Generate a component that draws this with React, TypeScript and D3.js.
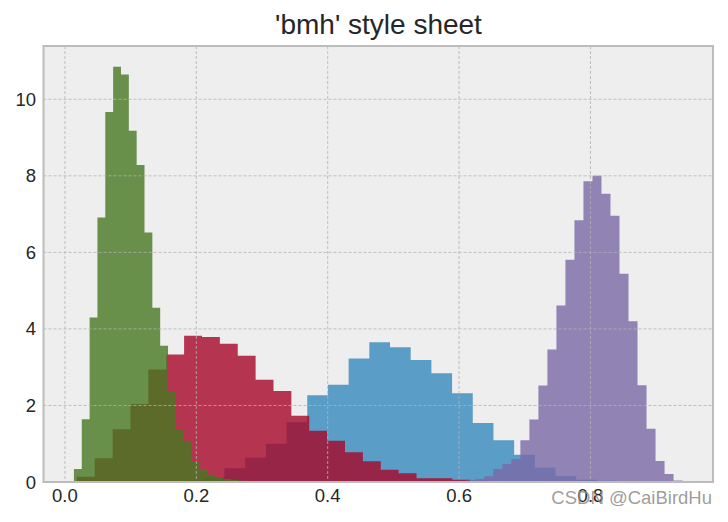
import React from 'react';
import * as d3 from 'd3';

// bmh colour cycle, in draw order
const colors = ['#348ABD', '#A60628', '#7A68A6', '#467821'];

// beta(10,10), beta(4,12), beta(50,12), beta(6,55) - 25 bins each, density
const binRanges: [number, number][] = [
  [0.1484, 0.9358],
  [0.0181, 0.6985],
  [0.5973, 0.9402],
  [0.0137, 0.3121],
];

const blueHeights = [
  0.02, 0.05, 0.12, 0.36, 0.64, 1.0, 1.56, 2.27, 2.54, 3.23, 3.65, 3.52, 3.19,
  2.84, 2.32, 1.54, 1.09, 0.71, 0.38, 0.16, 0.06, 0.03, 0.01, 0.0, 0.01,
];
const redHeights = [
  0.14, 0.62, 1.38, 2.04, 2.94, 3.33, 3.82, 3.79, 3.61, 3.3, 2.67, 2.38, 1.73,
  1.34, 1.08, 0.78, 0.54, 0.32, 0.23, 0.1, 0.1, 0.06, 0.03, 0.02, 0.01,
];
const purpleHeights = [
  0.02, 0.04, 0.08, 0.15, 0.34, 0.47, 0.6, 1.09, 1.63, 2.52, 3.46, 4.61, 5.81,
  6.84, 7.86, 8.0, 7.53, 6.96, 5.44, 4.2, 2.53, 1.39, 0.55, 0.21, 0.04,
];
const greenHeights = [
  0.34, 1.64, 4.3, 6.91, 9.67, 10.85, 10.65, 9.18, 8.28, 6.52, 4.55, 3.56, 2.37,
  1.36, 1.08, 0.54, 0.34, 0.19, 0.13, 0.08, 0.05, 0.03, 0.02, 0.01, 0.01,
];

const xTicks = [0.0, 0.2, 0.4, 0.6, 0.8];
const yTicks = [0, 2, 4, 6, 8, 10];

const title = "'bmh' style sheet";
const watermark = 'CSDN @CaiBirdHu';

const W = 728;
const H = 522;
const left = 43.5;
const right = 713;
const top = 46;
const bottom = 482;

const App: React.FC = () => {
  const series = [blueHeights, redHeights, purpleHeights, greenHeights];

  // matplotlib style 5% margins
  const xmin = d3.min(binRanges, d => d[0]) as number;
  const xmax = d3.max(binRanges, d => d[1]) as number;
  const xpad = (xmax - xmin) * 0.05;
  const ymax = (d3.max(series, s => d3.max(s)) as number) * 1.05;

  const x = d3.scaleLinear().domain([xmin - xpad, xmax + xpad]).range([left, right]);
  const y = d3.scaleLinear().domain([0, ymax]).range([bottom, top]);

  const area = d3
    .area<{ x: number; h: number }>()
    .curve(d3.curveStepAfter)
    .x(d => x(d.x))
    .y0(y(0))
    .y1(d => y(d.h));

  const paths = series.map((heights, i) => {
    const [a, b] = binRanges[i];
    const w = (b - a) / heights.length;
    const pts = heights.map((h, k) => ({ x: a + k * w, h }));
    pts.push({ x: b, h: heights[heights.length - 1] });
    return area(pts) || '';
  });

  const font = "'Liberation Sans', Arial, sans-serif";

  return (
    <svg
      width={W}
      height={H}
      style={{ position: 'absolute', left: 0, top: 0, background: '#fff' }}
    >
      <rect x={left} y={top} width={right - left} height={bottom - top} fill="#eeeeee" />
      {paths.map((d, i) => (
        <path key={i} d={d} fill={colors[i]} fillOpacity={0.8} stroke="none" />
      ))}
      {/* grid */}
      {xTicks.map(t => (
        <line
          key={'gx' + t}
          x1={x(t)}
          x2={x(t)}
          y1={top}
          y2={bottom}
          stroke="#b2b2b2"
          strokeWidth={0.8}
          strokeDasharray="3,2"
        />
      ))}
      {yTicks.slice(1).map(t => (
        <line
          key={'gy' + t}
          x1={left}
          x2={right}
          y1={y(t)}
          y2={y(t)}
          stroke="#b2b2b2"
          strokeWidth={0.8}
          strokeDasharray="3,2"
        />
      ))}
      <rect
        x={left}
        y={top}
        width={right - left}
        height={bottom - top}
        fill="none"
        stroke="#bcbcbc"
        strokeWidth={2}
      />
      {xTicks.map(t => (
        <text
          key={'tx' + t}
          x={x(t)}
          y={bottom + 19.5}
          textAnchor="middle"
          fontFamily={font}
          fontSize={18.5}
          fill="#262626"
        >
          {t.toFixed(1)}
        </text>
      ))}
      {yTicks.map(t => (
        <text
          key={'ty' + t}
          x={36}
          y={y(t) + 6.5}
          textAnchor="end"
          fontFamily={font}
          fontSize={18.5}
          fill="#262626"
        >
          {t}
        </text>
      ))}
      <text x={378.5} y={34} textAnchor="middle" fontFamily={font} fontSize={28} fill="#262626">
        {title}
      </text>
      <text
        x={712}
        y={504}
        textAnchor="end"
        fontFamily={font}
        fontSize={18.5}
        fill="#8c8c8c"
        fillOpacity={0.85}
      >
        {watermark}
      </text>
    </svg>
  );
};

export default App;
